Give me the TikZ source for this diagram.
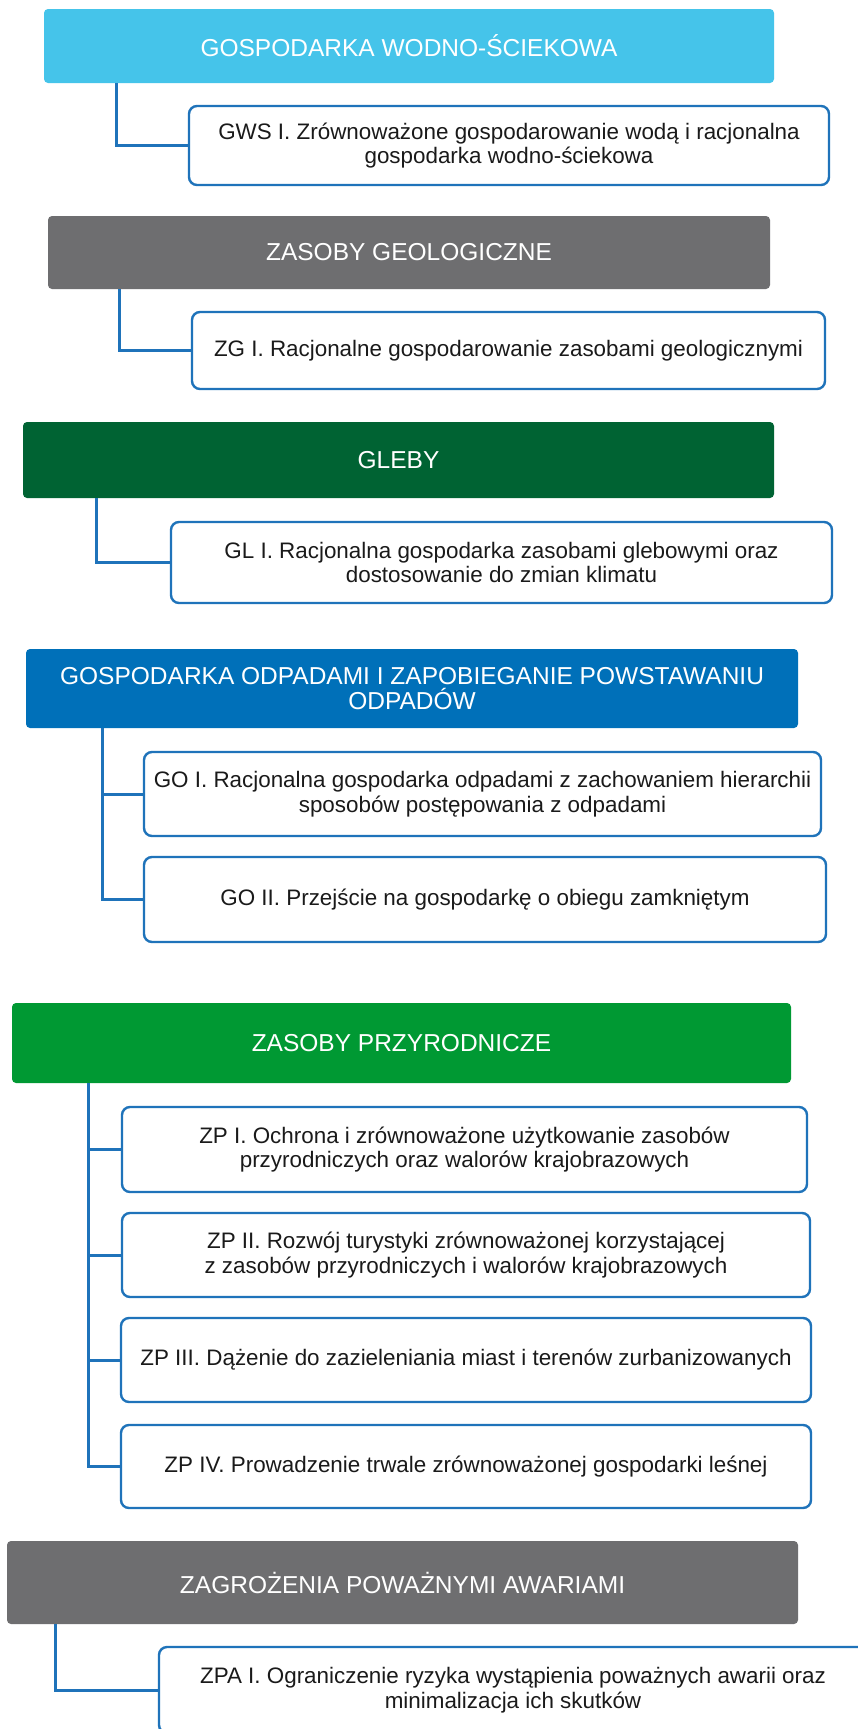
\documentclass[tikz,border=0pt]{standalone}
\usepackage{fontspec}
\setmainfont{Liberation Sans}
\definecolor{cCyan}{HTML}{45C4EA}
\definecolor{cGray}{HTML}{6E6E70}
\definecolor{cDkGreen}{HTML}{006333}
\definecolor{cBlueH}{HTML}{0070B9}
\definecolor{cGreen}{HTML}{009933}
\definecolor{cLine}{HTML}{1F73BA}
\definecolor{cText}{HTML}{1A1A1A}
\begin{document}
\begin{tikzpicture}[x=1pt,y=-1pt,
  hdr/.style={rectangle, rounded corners=4pt, inner sep=0pt, outer sep=0pt,
    anchor=north west, text=white, align=center,
    font=\fontsize{24.5}{25}\selectfont},
  cbox/.style={rectangle, draw=cLine, line width=2.4pt, rounded corners=8pt,
    fill=white, inner sep=0pt, outer sep=0pt, anchor=north west,
    align=center, text=cText, font=\fontsize{22.4}{24.5}\selectfont},
  conn/.style={draw=cLine, line width=3pt}]
\useasboundingbox (0,0) rectangle (858,1729);
\fill[white] (0,0) rectangle (858,1729);

% Section 1
\node[hdr, fill=cCyan, minimum width=730pt, minimum height=74pt] (h1) at (44,9) {GOSPODARKA WODNO-ŚCIEKOWA};
\node[cbox, minimum width=640pt, minimum height=79pt] (c1) at (189,106) {GWS I. Zrównoważone gospodarowanie wodą i racjonalna\\gospodarka wodno-ściekowa};
\coordinate (s1) at (116,83);
\draw[conn] (s1) |- (c1.west);

% Section 2
\node[hdr, fill=cGray, minimum width=722pt, minimum height=73pt] (h2) at (48,216) {ZASOBY GEOLOGICZNE};
\node[cbox, minimum width=633pt, minimum height=77pt] (c2) at (192,312) {ZG I. Racjonalne gospodarowanie zasobami geologicznymi};
\coordinate (s2) at (119,289);
\draw[conn] (s2) |- (c2.west);

% Section 3
\node[hdr, fill=cDkGreen, minimum width=751pt, minimum height=76pt] (h3) at (23,422) {GLEBY};
\node[cbox, minimum width=661pt, minimum height=81pt] (c3) at (171,522) {GL I. Racjonalna gospodarka zasobami glebowymi oraz\\dostosowanie do zmian klimatu};
\coordinate (s3) at (96,498);
\draw[conn] (s3) |- (c3.west);

% Section 4
\node[hdr, fill=cBlueH, minimum width=772pt, minimum height=79pt] (h4) at (26,649) {GOSPODARKA ODPADAMI I ZAPOBIEGANIE POWSTAWANIU\\ODPADÓW};
\node[cbox, minimum width=677pt, minimum height=84pt] (c4a) at (144,752) {GO I. Racjonalna gospodarka odpadami z zachowaniem hierarchii\\sposobów postępowania z odpadami};
\node[cbox, minimum width=682pt, minimum height=85pt] (c4b) at (144,857) {GO II. Przejście na gospodarkę o obiegu zamkniętym};
\coordinate (s4) at (102,728);
\draw[conn] (s4) |- (c4a.west);
\draw[conn] (s4) |- (c4b.west);

% Section 5
\node[hdr, fill=cGreen, minimum width=779pt, minimum height=80pt] (h5) at (12,1003) {ZASOBY PRZYRODNICZE};
\node[cbox, minimum width=685pt, minimum height=85pt] (c5a) at (122,1107) {ZP I. Ochrona i zrównoważone użytkowanie zasobów\\przyrodniczych oraz walorów krajobrazowych};
\node[cbox, minimum width=688pt, minimum height=84pt] (c5b) at (122,1213) {ZP II. Rozwój turystyki zrównoważonej korzystającej\\z zasobów przyrodniczych i walorów krajobrazowych};
\node[cbox, minimum width=690pt, minimum height=84pt] (c5c) at (121,1318) {ZP III. Dążenie do zazieleniania miast i terenów zurbanizowanych};
\node[cbox, minimum width=690pt, minimum height=83pt] (c5d) at (121,1425) {ZP IV. Prowadzenie trwale zrównoważonej gospodarki leśnej};
\coordinate (s5) at (88,1083);
\draw[conn] (s5) |- (c5a.west);
\draw[conn] (s5) |- (c5b.west);
\draw[conn] (s5) |- (c5c.west);
\draw[conn] (s5) |- (c5d.west);

% Section 6
\node[hdr, fill=cGray, minimum width=791pt, minimum height=83pt] (h6) at (7,1541) {ZAGROŻENIA POWAŻNYMI AWARIAMI};
\node[cbox, minimum width=708pt, minimum height=86pt] (c6) at (159,1647) {ZPA I. Ograniczenie ryzyka wystąpienia poważnych awarii oraz\\minimalizacja ich skutków};
\coordinate (s6) at (55,1624);
\draw[conn] (s6) |- (c6.west);
\end{tikzpicture}
\end{document}
